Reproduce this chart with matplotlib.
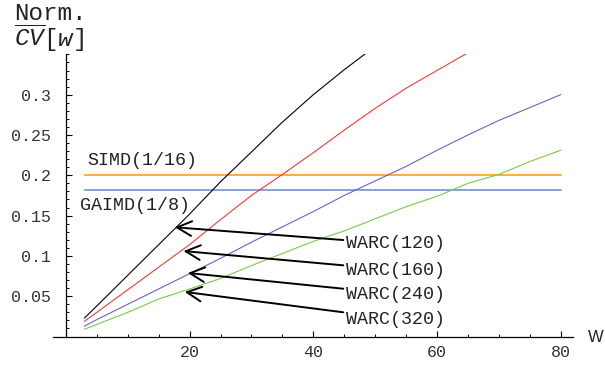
import matplotlib
matplotlib.use("Agg")
import matplotlib.pyplot as plt
from matplotlib.ticker import MultipleLocator, FixedLocator

plt.rcParams['mathtext.fontset'] = 'custom'
plt.rcParams['mathtext.rm'] = 'Liberation Mono'
plt.rcParams['mathtext.it'] = 'Liberation Mono:italic'

# ---- data ----
w = [3, 5, 10, 15, 20, 25, 30, 35, 40, 45, 50, 55, 60, 65, 70, 75, 80]
warc120 = [0.023, 0.038, 0.076, 0.114, 0.152, 0.192, 0.229, 0.266, 0.300, 0.331, 0.360,
           None, None, None, None, None, None]
warc160 = [0.019, 0.030, 0.058, 0.086, 0.114, 0.145, 0.175, 0.201, 0.228, 0.256, 0.283,
           0.308, 0.330, 0.352, None, None, None]
warc240 = [0.013, 0.021, 0.040, 0.059, 0.078, 0.097, 0.117, 0.136, 0.155, 0.175, 0.193,
           0.211, 0.231, 0.250, 0.268, 0.284, 0.300]
warc320 = [0.009, 0.015, 0.030, 0.0465, 0.059, 0.072, 0.088, 0.103, 0.118, 0.131, 0.146,
           0.161, 0.174, 0.190, 0.201, 0.217, 0.231]
simd_level = 0.2
gaimd_level = 0.182
hline_range = [3, 80]

series_labels = ["WARC(120)", "WARC(160)", "WARC(240)", "WARC(320)"]
arrow_tips = [(17.6, 0.1355), (19.0, 0.106), (19.7, 0.0788), (19.2, 0.0553)]
label_pos = [(45.3, 0.1148), (45.3, 0.0825), (45.3, 0.0527), (45.3, 0.0217)]

xticks = [20, 40, 60, 80]
yticks = [0.05, 0.1, 0.15, 0.2, 0.25, 0.3]
ytick_labels = ["0.05", "0.1", "0.15", "0.2", "0.25", "0.3"]

def clean(xs, ys):
    pts = [(x, y) for x, y in zip(xs, ys) if y is not None]
    return [p[0] for p in pts], [p[1] for p in pts]

fig = plt.figure(figsize=(6.05, 3.69), dpi=100)
ax = fig.add_axes([53/605, 1 - 336.5/369, 520/605, 282.1/369])
ax.set_xlim(-2.1, 82)
ax.set_ylim(0, 0.35)

mono = 'Liberation Mono'

ax.plot(hline_range, [simd_level]*2, color='#FF9900', lw=1.1)
ax.plot(hline_range, [gaimd_level]*2, color='#6B86C9', lw=1.1)

for ys, c in [(warc120, 'black'), (warc160, '#F23A3A'), (warc240, '#7460C0'), (warc320, '#7DC94C')]:
    xs, yy = clean(w, ys)
    ax.plot(xs, yy, color=c, lw=0.8)

ax.text(3.4, 0.218, "SIMD(1/16)", family=mono, fontsize=13.2, ha='left', va='center', color='#222222')
ax.text(2.3, 0.163, "GAIMD(1/8)", family=mono, fontsize=13.2, ha='left', va='center', color='#222222')

for lab, tip, pos in zip(series_labels, arrow_tips, label_pos):
    ax.annotate(lab, xy=tip, xytext=pos, family=mono, fontsize=13.2, ha='left', va='center',
                color='#222222',
                arrowprops=dict(arrowstyle='->,head_length=0.8,head_width=0.4', color='black',
                                lw=1.4, shrinkA=0, shrinkB=0))

for s in ['top', 'right']:
    ax.spines[s].set_visible(False)
ax.spines['left'].set_position(('data', 0))
ax.spines['left'].set_linewidth(0.9)
ax.spines['bottom'].set_linewidth(0.9)

ax.xaxis.set_major_locator(FixedLocator(xticks))
ax.xaxis.set_minor_locator(MultipleLocator(5))
ax.yaxis.set_major_locator(FixedLocator(yticks))
ax.set_yticklabels(ytick_labels)
ax.yaxis.set_minor_locator(MultipleLocator(0.01))
ax.tick_params(which='major', direction='in', length=4, width=0.8, labelsize=12, colors='black', labelcolor='#333333')
ax.tick_params(which='minor', direction='in', length=2.2, width=0.7)
ax.tick_params(axis='x', pad=6)
ax.tick_params(axis='y', pad=11)
for t in ax.get_xticklabels() + ax.get_yticklabels():
    t.set_family(mono)

fig.text(14/605, 1 - 20/369, "Norm.", family=mono, fontsize=17.5, ha='left', va='baseline', color='#222222')
fig.text(14/605, 1 - 47/369, r'$\overline{CV}\mathrm{[}w\mathrm{]}$', fontsize=17.5, ha='left', va='baseline', color='#222222')
fig.text(588/605, 1 - 338/369, "W", family='Liberation Sans', fontsize=12, ha='left', va='center', color='#222222')

fig.savefig("out.png", dpi=100)
